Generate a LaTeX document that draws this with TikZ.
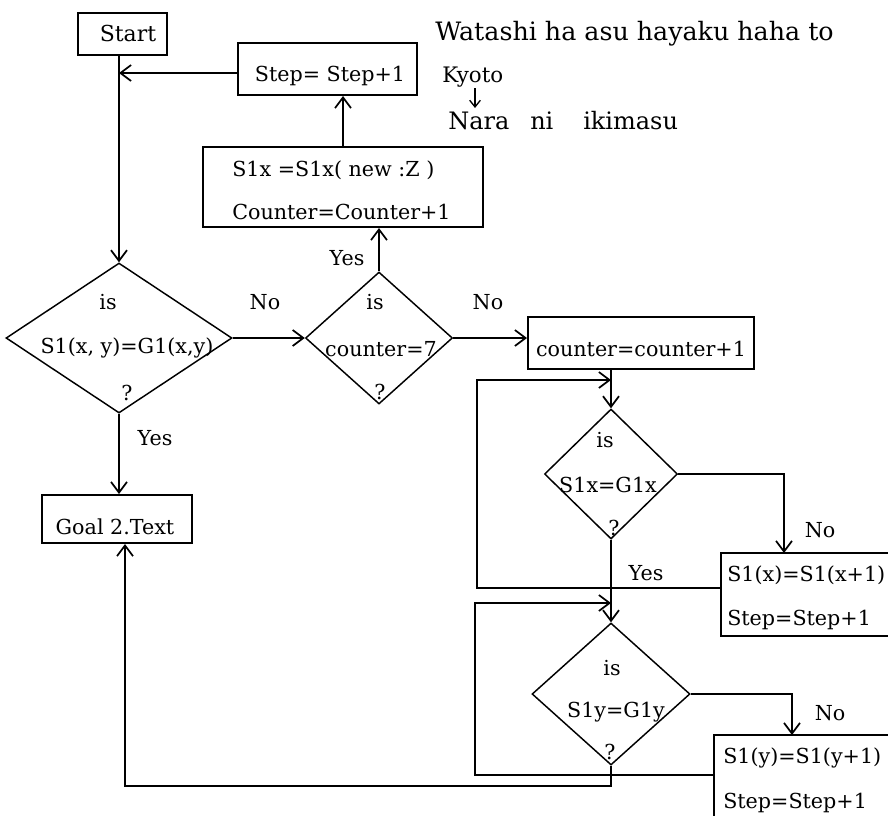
\documentclass[tikz,border=0pt]{standalone}
\usepackage{fontspec}
\setmainfont{DejaVu Serif}
\usetikzlibrary{shapes.geometric,arrows.meta}
\begin{document}
\begin{tikzpicture}[x=0.75pt,y=-0.75pt,
  box/.style={draw,rectangle,line width=1.5pt,inner sep=0},
  dia/.style={draw,diamond,line width=1.1pt,inner sep=0},
  txt/.style={inner sep=0,font=\fontsize{15.5}{18}\selectfont},
  lbl/.style={inner sep=0,font=\fontsize{15.5}{18}\selectfont},
  ln/.style={line width=1.5pt},
  arr/.style={line width=1.5pt,-{Straight Barb[length=8pt,width=12pt,line width=1.3pt]}},
  sarr/.style={line width=1pt,-{Straight Barb[length=5pt,width=8pt,line width=1pt]}}]
\useasboundingbox (0,0) rectangle (888,815);

% title text
\node[anchor=base west,inner sep=0,font=\fontsize{19}{22}\selectfont] (title) at (435,40) {Watashi ha asu hayaku haha to};
\node[anchor=base west,inner sep=0,font=\fontsize{16}{18}\selectfont] (kyoto) at (442,82) {Kyoto};
\node[anchor=base west,inner sep=0,font=\fontsize{18}{20}\selectfont] (nara) at (448,129) {Nara};
\node[anchor=base west,inner sep=0,font=\fontsize{18}{20}\selectfont] (ni) at (530,129) {ni};
\node[anchor=base west,inner sep=0,font=\fontsize{18}{20}\selectfont] (iki) at (583,129) {ikimasu};
\coordinate (ka) at (475,88);
\coordinate (kb) at (475,108);
\draw[sarr] (ka) -- (kb);

% boxes
\node[box,minimum width=66.75pt,minimum height=31.5pt] (start) at (122.5,34) {};
\node[txt,font=\fontsize{16.5}{18}\selectfont] (tstart) at (128,33) {Start};

\node[box,minimum width=134.25pt,minimum height=39pt] (step) at (327.5,69) {};
\node[txt] (tstep) at (330,76) {Step= Step+1};

\node[box,minimum width=210pt,minimum height=60pt] (upd) at (343,187) {};
\node[txt,anchor=west] (tupd1) at (232,170) {S1x =S1x( new :Z )};
\node[txt,anchor=west] (tupd2) at (232,212) {Counter=Counter+1};

\node[box,minimum width=169.5pt,minimum height=39pt] (cnt) at (641,343) {};
\node[txt] (tcnt) at (641,349) {counter=counter+1};

\node[box,minimum width=112.5pt,minimum height=36pt] (goal) at (117,519) {};
\node[txt] (tgoal) at (115,527) {Goal 2.Text};

\node[box,minimum width=179.25pt,minimum height=62.25pt] (incx) at (840.5,594.5) {};
\node[txt,anchor=west] (tincx1) at (727,575) {S1(x)=S1(x+1)};
\node[txt,anchor=west] (tincx2) at (727,620) {Step=Step+1};

\node[box,minimum width=184.5pt,minimum height=71.25pt] (incy) at (837,782.5) {};
\node[txt,anchor=west] (tincy1) at (723,758) {S1(y)=S1(y+1)};
\node[txt,anchor=west] (tincy2) at (723,803) {Step=Step+1};

% diamonds
\node[dia,minimum width=169.5pt,minimum height=112.5pt] (d1) at (119,338) {};
\node[txt] (d1a) at (108,302) {is};
\node[txt] (d1b) at (127,348) {S1(x, y)=G1(x,y)};
\node[txt] (d1c) at (127,393) {?};

\node[dia,minimum width=110.25pt,minimum height=99pt] (d2) at (379,338) {};
\node[txt] (d2a) at (375,302) {is};
\node[txt] (d2b) at (381,349) {counter=7};
\node[txt] (d2c) at (380,392) {?};

\node[dia,minimum width=99.75pt,minimum height=97.5pt] (d3) at (611,474) {};
\node[txt] (d3a) at (605,440) {is};
\node[txt] (d3b) at (608,485) {S1x=G1x};
\node[txt] (d3c) at (614,528) {?};

\node[dia,minimum width=118.5pt,minimum height=106.5pt] (d4) at (611,694) {};
\node[txt] (d4a) at (612,668) {is};
\node[txt] (d4b) at (616,712) {S1y=G1y};
\node[txt] (d4c) at (610,752) {?};

% connectors
\draw[arr] (start.south -| d1.north) -- (d1.north);
\draw[arr] ([yshift=-3pt]step.west) -- ([yshift=-3pt]step.west -| d1.north);
\draw[arr] (upd.north) -- (upd.north |- step.south);
\draw[arr] (d2.north) -- (d2.north |- upd.south);
\draw[arr] (d1.east) -- (d2.west);
\draw[arr] (d2.east) -- (d2.east -| cnt.west);
\draw[arr] (cnt.south -| d3.north) -- (d3.north);
\draw[arr] (d1.south) -- (d1.south |- goal.north);

\coordinate (lx1) at (477,380);
\draw[arr] ([yshift=5pt]incx.west) -| (lx1) -- (lx1 -| d3.north);
\coordinate (nx1) at (784,553);
\draw[arr] (d3.east) -| (nx1);
\draw[arr] (d3.south) -- (d4.north);

\coordinate (lx2) at (475,603);
\draw[arr] ([yshift=6pt]incy.west) -| (lx2) -- (lx2 -| d4.north);
\coordinate (ny1) at (792,735);
\draw[arr] (d4.east) -| (ny1);

\coordinate (bl) at (125,786);
\draw[arr] (d4.south) |- (bl) -- (bl |- goal.south);

% labels
\node[lbl] (no1) at (265,302) {No};
\node[lbl] (no2) at (488,302) {No};
\node[lbl] (yes1) at (347,258) {Yes};
\node[lbl] (yes2) at (155,438) {Yes};
\node[lbl] (no3) at (820,530) {No};
\node[lbl] (yes3) at (646,573) {Yes};
\node[lbl] (no4) at (830,713) {No};
\end{tikzpicture}
\end{document}
